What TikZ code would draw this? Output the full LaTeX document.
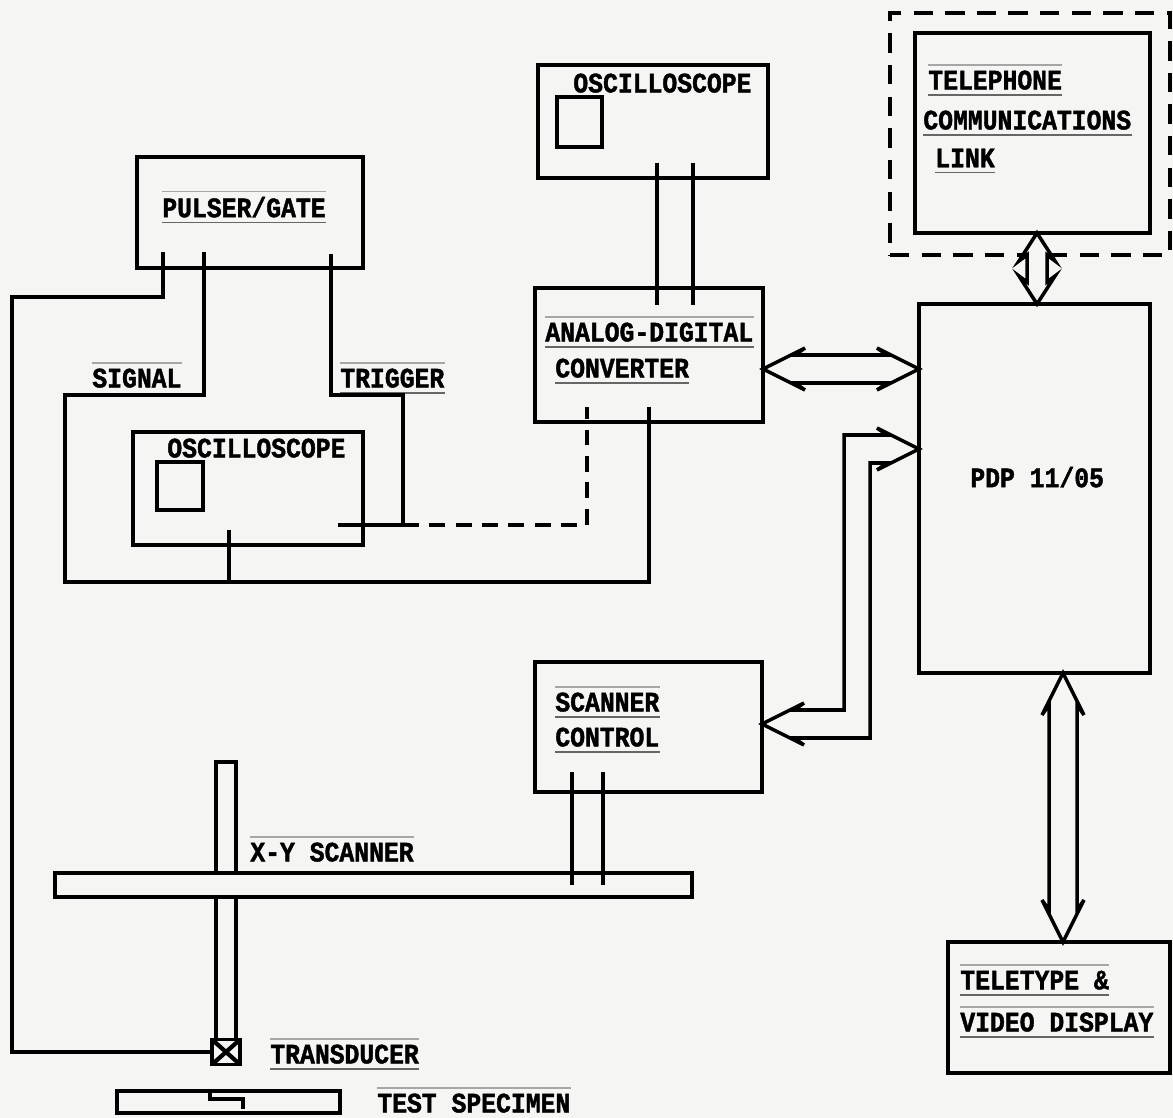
\documentclass[tikz,border=0pt]{standalone}
\usepackage{fontspec}
\newfontfamily\tw{Liberation Mono}[FakeStretch=0.88, BoldFeatures={FakeBold=1.5}]
\usetikzlibrary{calc}
\definecolor{paper}{RGB}{245,245,243}
\begin{document}
\begin{tikzpicture}[x=0.02cm,y=-0.02cm,
  box/.style={draw, line width=2.2pt, fill=paper, inner sep=0pt, outer sep=0pt},
  wire/.style={line width=2pt},
  dwire/.style={line width=2pt, dash pattern=on 9pt off 6pt},
  rule/.style={draw, line width=0.7pt, black!60},
  lbl/.style={font=\tw\bfseries\fontsize{16}{18}\selectfont, inner xsep=0pt, inner ysep=3pt, anchor=west, text depth=0pt},
  ul/.style={append after command={(\tikzlastnode.south west) edge[rule] (\tikzlastnode.south east)}},
  ol/.style={append after command={(\tikzlastnode.north west) edge[rule, black!35] (\tikzlastnode.north east)}},
  harrow/.style={draw, line width=2pt, fill=paper, line join=miter}
]
\useasboundingbox (0,0) rectangle (1173,1118);
\fill[paper] (0,0) rectangle (1173,1118);

% ---- boxes ----
\node[box, dash pattern=on 11pt off 7pt, line width=2.4pt, minimum width=5.6cm, minimum height=4.84cm] (teldash) at (1030,134) {};
\node[box, minimum width=4.7cm, minimum height=4.0cm] (tel) at (1032.5,133) {};
\node[box, minimum width=4.62cm, minimum height=7.38cm] (pdp) at (1034.5,488.5) {};
\node[box, minimum width=4.44cm, minimum height=2.62cm] (tty) at (1059,1007.5) {};
\node[box, minimum width=4.6cm, minimum height=2.26cm] (osc1) at (653,121.5) {};
\node[box, minimum width=0.9cm, minimum height=1.0cm] (scr1) at (579.5,122) {};
\node[box, minimum width=4.56cm, minimum height=2.68cm] (adc) at (649,355) {};
\node[box, minimum width=4.52cm, minimum height=2.22cm] (pulser) at (250,212.5) {};
\node[box, minimum width=4.6cm, minimum height=2.26cm] (osc2) at (248,488.5) {};
\node[box, minimum width=0.92cm, minimum height=0.96cm] (scr2) at (180,486) {};
\node[box, minimum width=4.54cm, minimum height=2.6cm] (scan) at (648.5,727) {};
\node[box, minimum width=0.4cm, minimum height=5.56cm] (vbar) at (226,901) {};
\node[box, minimum width=12.74cm, minimum height=0.48cm] (xybar) at (373.5,885) {};
\node[box, minimum width=0.56cm, minimum height=0.5cm, path picture={
  \draw[line width=2.4pt] (path picture bounding box.south west) -- (path picture bounding box.north east)
        (path picture bounding box.north west) -- (path picture bounding box.south east);}] (trans) at (226,1052) {};
\node[box, minimum width=4.46cm, minimum height=0.44cm] (spec) at (228.5,1102) {};
\draw[wire] ($(spec.north west)+(93,0)$) -- ++(0,8) -- ++(33,0) -- ++(0,10);

% ---- labels ----
\node[lbl, ol, ul] (l-tel) at (928,80) {TELEPHONE};
\node[lbl, ul] (l-comm) at (923,120) {COMMUNICATIONS};
\node[lbl, ul] (l-link) at (935,158) {LINK};
\node[lbl] (l-osc1) at (573,83) {OSCILLOSCOPE};
\node[lbl, ol, ul] (l-adc1) at (545,332) {ANALOG-DIGITAL};
\node[lbl, ul] (l-adc2) at (555,368) {CONVERTER};
\node[lbl, ol, ul] (l-puls) at (162,207) {PULSER/GATE};
\node[lbl, ol] (l-sig) at (92,378) {SIGNAL};
\node[lbl, ol, ul] (l-trig) at (340,378) {TRIGGER};
\node[lbl] (l-osc2) at (167,448) {OSCILLOSCOPE};
\node[lbl] (l-pdp) at (970,477) {PDP 11/05};
\node[lbl, ol, ul] (l-sc1) at (555,702) {SCANNER};
\node[lbl, ul] (l-sc2) at (555,737) {CONTROL};
\node[lbl, ol] (l-xy) at (250,852) {X-Y SCANNER};
\node[lbl, ol, ul] (l-tr) at (270,1054) {TRANSDUCER};
\node[lbl, ol] (l-ts) at (377,1103) {TEST SPECIMEN};
\node[lbl, ol, ul] (l-tt1) at (960,980) {TELETYPE \&};
\node[lbl, ol, ul] (l-tt2) at (960,1022) {VIDEO DISPLAY};

% ---- pins ----
\coordinate (pg1) at (163,252);
\coordinate (pg2) at (204,252);
\coordinate (pg3) at (331,254);
\coordinate (o2a) at (229,530);
\coordinate (o2b) at (338,525);
\coordinate (ad1) at (587,407);
\coordinate (ad2) at (649,407);
\coordinate (ad3) at (657,305);
\coordinate (ad4) at (693,305);
\coordinate (o1a) at (657,163);
\coordinate (o1b) at (693,163);
\coordinate (sc1) at (572,772);
\coordinate (sc2) at (603,772);
\coordinate (xb1) at (572,885);
\coordinate (xb2) at (603,885);
\coordinate (ch1) at (844,0);
\coordinate (ch2) at (870,0);

% ---- wires ----
\draw[wire] (pg1) |- (12,297) |- (trans.west);
\draw[wire] (pg2) |- (65,395) |- (649,582) -- (ad2);
\draw[wire] (o2a) -- (229,582);
\draw[wire] (pg3) |- (403,395) |- (o2b);
\draw[dwire] (403,525) -| (ad1);
\draw[wire] (o1a) -- (ad3);
\draw[wire] (o1b) -- (ad4);
\draw[wire] (sc1) -- (xb1);
\draw[wire] (sc2) -- (xb2);

% ---- hollow double arrows ----
\coordinate (e1) at (adc.east |- 0,369);
\coordinate (e2) at (pdp.west |- 0,369);
\draw[harrow] (e1) -- ++(42,-21) -- ++(-10,7) -- ($(e2)+(-32,-14)$) -- ++(-10,-7) -- (e2)
  -- ++(-42,21) -- ++(10,-7) -- ($(e1)+(32,14)$) -- ++(10,7) -- cycle;

\coordinate (s1) at (scan.east |- 0,724);
\coordinate (s2) at (pdp.west |- 0,449);
\draw[harrow] (s1) -- ++(42,-21) -- ++(-10,7) -- ($(s1 -| ch1)+(0,-14)$) -- ($(s2 -| ch1)+(0,-14)$)
  -- ($(s2)+(-32,-14)$) -- ++(-10,-7) -- (s2) -- ++(-42,21) -- ++(10,-7)
  -- ($(s2 -| ch2)+(0,14)$) -- ($(s1 -| ch2)+(0,14)$) -- ($(s1)+(32,14)$) -- ++(10,7) -- cycle;

\coordinate (t1) at (tel.south -| 1037,0);
\coordinate (t2) at (pdp.north -| 1037,0);
\draw[harrow] (t1) -- ++(-18,28) -- ++(8,-6) -- ($(t2)+(-10,-22)$) -- ++(-8,-6) -- (t2)
  -- ++(18,-28) -- ++(-8,6) -- ($(t1)+(10,22)$) -- ++(8,6) -- cycle;

\coordinate (t3) at (pdp.south -| 1063,0);
\coordinate (t4) at (tty.north -| 1063,0);
\draw[harrow] (t3) -- ++(-21,42) -- ++(7,-10) -- ($(t4)+(-14,-32)$) -- ++(-7,-10) -- (t4)
  -- ++(21,-42) -- ++(-7,10) -- ($(t3)+(14,32)$) -- ++(7,10) -- cycle;
\end{tikzpicture}
\end{document}
